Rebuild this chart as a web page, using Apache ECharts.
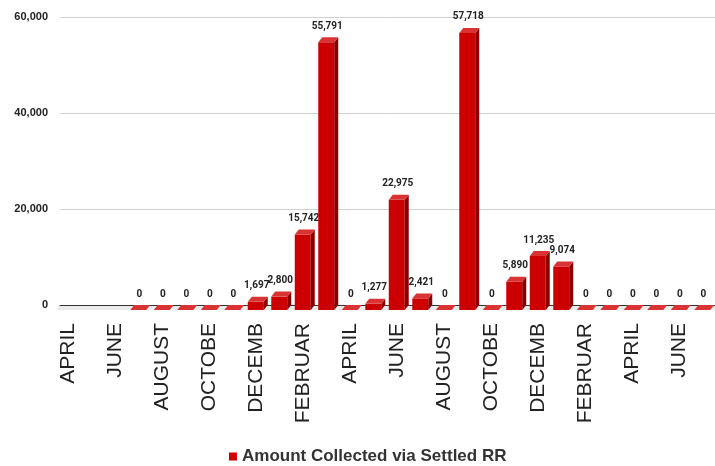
<!DOCTYPE html>
<html>
<head>
<meta charset="utf-8">
<script src="https://cdn.jsdelivr.net/npm/echarts@6/dist/echarts.min.js"></script>
<style>html,body{margin:0;padding:0;background:#fff}#c{width:715px;height:466px}</style>
</head>
<body>
<div id="c"></div>
<script>
const categories = ['APRIL','MAY','JUNE','JULY','AUGUST','SEPTEMBER','OCTOBER','NOVEMBER','DECEMBER','JANUARY','FEBRUARY','MARCH',
  'APRIL','MAY','JUNE','JULY','AUGUST','SEPTEMBER','OCTOBER','NOVEMBER','DECEMBER','JANUARY','FEBRUARY','MARCH',
  'APRIL','MAY','JUNE','JULY'];
const amountCollected = [null,null,null,0,0,0,0,0,1697,2800,15742,55791,
  0,1277,22975,2421,0,57718,0,5890,11235,9074,0,0,
  0,0,0,0];
const yTicks = [0,20000,40000,60000];
const seriesName = 'Amount Collected via Settled RR';

const DX = 4, DY = -5;
const FRONT = '#cc0000', SIDE = '#880000', TOP = '#d93333';

const chart = echarts.init(document.getElementById('c'), null, {renderer:'canvas'});
const fmt = v => Number(v).toLocaleString('en-US');

chart.setOption({
  animation:false,
  backgroundColor:'#fff',
  grid:[
    {left:56, right:1, top:22, bottom:156},
    {left:56+DX, right:1-DX, top:22+DY, bottom:156-DY}
  ],
  xAxis:[
    {type:'category', gridIndex:0, data:categories, boundaryGap:true,
      axisLine:{show:false}, axisTick:{show:false},
      axisLabel:{interval:1, rotate:90, margin:13, fontSize:21, color:'#222',
        fontFamily:'Liberation Sans, Arial, sans-serif', width:103, overflow:'truncate', ellipsis:''}},
    {type:'category', gridIndex:1, data:categories, boundaryGap:true,
      axisLine:{show:true, lineStyle:{color:'#333', width:1}}, axisTick:{show:false},
      axisLabel:{show:false}, z:3}
  ],
  yAxis:[
    {type:'value', gridIndex:0, min:0, max:yTicks[yTicks.length-1], interval:20000, show:false},
    {type:'value', gridIndex:1, min:0, max:yTicks[yTicks.length-1], interval:20000,
      axisLine:{show:false}, axisTick:{show:false},
      splitLine:{lineStyle:{color:'#d0d0d0', width:1}},
      axisLabel:{margin:12, fontSize:11, fontWeight:'bold', color:'#222',
        fontFamily:'Liberation Sans, Arial, sans-serif', formatter:v=>fmt(v)}}
  ],
  legend:{
    data:[{name:seriesName, icon:'rect'}],
    left:224, top:443, itemWidth:8, itemHeight:8, itemGap:6,
    textStyle:{fontSize:17, fontWeight:'bold', color:'#333', fontFamily:'Liberation Sans, Arial, sans-serif'}
  },
  graphic:[
    {type:'polygon', z:-1, silent:true,
      shape:{points:[[56,310],[56+DX,310+DY],[719,310+DY],[715,310]]},
      style:{fill:'#ebebeb'}}
  ],
  series:[{
    name:seriesName,
    type:'custom',
    xAxisIndex:0, yAxisIndex:0,
    itemStyle:{color:FRONT},
    encode:{x:0, y:1},
    data: amountCollected.map((v,i)=>[i, v==null?'-':v]),
    z:5,
    renderItem:function(params, api){
      const v = api.value(1);
      if (v == null || isNaN(v)) return null;
      const idx = api.value(0);
      const p0 = api.coord([idx, 0]);
      const p1 = api.coord([idx, v]);
      const w = api.size([1,0])[0]*0.68;
      const xl = p0[0]-w/2, xr = p0[0]+w/2, yb = p0[1], yt = p1[1];
      const ch = [];
      if (yb - yt > 0.5) {
        ch.push({type:'rect', shape:{x:xl, y:yt, width:w, height:yb-yt}, style:{fill:FRONT}});
        ch.push({type:'polygon', shape:{points:[[xr,yt],[xr+DX,yt+DY],[xr+DX,yb+DY],[xr,yb]]}, style:{fill:SIDE}});
      }
      ch.push({type:'polygon', shape:{points:[[xl,yt],[xl+DX,yt+DY],[xr+DX,yt+DY],[xr,yt]]}, style:{fill:TOP}});
      ch.push({type:'text', style:{text:fmt(v), x:p0[0]+1, y:yt+DY-6, align:'center', verticalAlign:'bottom',
        fontSize:10, fontWeight:'bold', fill:'#222', fontFamily:'Roboto, Arial, sans-serif'}});
      return {type:'group', children:ch};
    }
  }]
});
</script>
</body>
</html>
